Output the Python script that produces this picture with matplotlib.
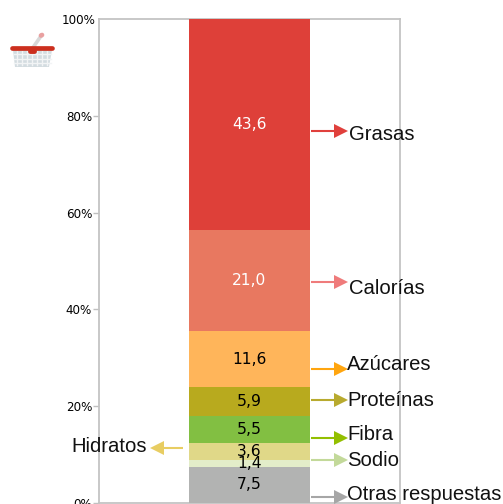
#!/usr/bin/python
# Stacked column: what shoppers look at on the food label
import numpy as np
import matplotlib
matplotlib.use('Agg')
import matplotlib.pyplot as plt
from matplotlib.patches import Polygon
from matplotlib.transforms import ScaledTranslation

# bottom to top
names  = ['Otras respuestas', 'Sodio', 'Hidratos', 'Fibra', 'Proteínas', 'Azúcares', 'Calorías', 'Grasas']
values = [7.5, 1.4, 3.6, 5.5, 5.9, 11.6, 21.0, 43.6]
labels = ['7,5', '1,4', '3,6', '5,5', '5,9', '11,6', '21,0', '43,6']
colors = ['#b2b3b2', '#e3edc9', '#e0d888', '#82bf42', '#b8aa1e', '#ffb55a', '#e87860', '#de4039']
text_colors = ['black'] * 6 + ['white'] * 2
arrow_colors = ['#a6a6a6', '#c3d99a', '#e8cd62', '#93bf00', '#b8aa2e', '#ffa50f', '#ef7b7b', '#e0403c']
tick_vals = [0, 20, 40, 60, 80, 100]

W, H = 503, 504
# plot frame, in pixels
left, right, top, bottom = 99, 400, 19, 503

fig = plt.figure(figsize=(W / 100, H / 100), dpi=100)
ax = fig.add_axes([left / W, 1 - bottom / H, (right - left) / W, (bottom - top) / H])

#================= Column ==================
bottoms = np.concatenate(([0], np.cumsum(values)[:-1]))
ax.bar(0, values, width=121, bottom=bottoms, color=colors, linewidth=0, zorder=3)
for b, v, s, c in zip(bottoms, values, labels, text_colors):
    ax.text(0, b + v / 2, s, color=c, ha='center', va='center', fontsize=11.2,
            family='DejaVu Sans', zorder=5)

ax.set_xlim(-150.5, 150.5)
ax.set_ylim(0, 100)
ax.set_xticks([])
ax.set_yticks(tick_vals)
ax.set_yticklabels(['%d%%' % t for t in tick_vals], fontsize=8.6, family='DejaVu Sans')
ax.tick_params(axis='y', length=4, width=1, color='#c0c0c0', pad=1)
# the top label sits closer to the frame and has no tick
top_label = ax.get_yticklabels()[-1]
top_label.set_transform(top_label.get_transform() + ScaledTranslation(0.03, 0, fig.dpi_scale_trans))
ax.yaxis.get_major_ticks()[-1].tick1line.set_visible(False)
for sp in ax.spines.values():
    sp.set_color('#c4c4c4')
    sp.set_linewidth(1.3)

#================= Callouts and basket, in pixels ==================
ov = fig.add_axes([0, 0, 1, 1])
ov.set_xlim(0, W)
ov.set_ylim(H, 0)
ov.axis('off')
ov.patch.set_alpha(0)

# x0, x1, arrow y, text x, text y
callouts = {
    'Grasas':           (311, 348, 131, 349, 134),
    'Calorías':         (311, 348, 282, 349, 288),
    'Azúcares':         (311, 348, 369, 347, 364),
    'Proteínas':        (311, 348, 400, 347, 401),
    'Fibra':            (311, 348, 438, 347, 435),
    'Sodio':            (311, 348, 460, 347, 460),
    'Otras respuestas': (311, 348, 497, 347, 494),
    'Hidratos':         (183, 150, 448, 147, 447),
}
for name, col in zip(names, arrow_colors):
    x0, x1, y, tx, ty = callouts[name]
    d = 1 if x1 > x0 else -1
    ov.plot([x0, x1 - d * 14], [y, y], color=col, lw=1.5, solid_capstyle='butt')
    ov.add_patch(Polygon([(x1, y), (x1 - d * 14, y - 7), (x1 - d * 14, y + 7)], closed=True,
                         facecolor=col, edgecolor='none'))
    ov.text(tx, ty, name, fontsize=14.6, family='Liberation Sans', color='#111111',
            ha='left' if d > 0 else 'right', va='center')

# shopping basket
ov.add_patch(Polygon([(13, 50), (52, 50), (49, 67), (15, 67)], closed=True,
                     facecolor='#d3dce0', edgecolor='none'))
for gx in np.arange(17, 50, 5):
    ov.plot([gx, gx], [51, 65], color='#f2f4f5', lw=1.0)
for gy in (54, 59, 63):
    ov.plot([14, 51], [gy, gy], color='#f2f4f5', lw=1.0)
ov.plot([32, 41], [49, 36], color='#d8d8d8', lw=2.6, solid_capstyle='round')
ov.plot([41, 42], [35.5, 35], color='#e9a0a0', lw=3.4, solid_capstyle='round')
ov.plot([12, 52], [48, 48], color='#cc2f1e', lw=3.4, solid_capstyle='round')
ov.plot([30, 34], [51, 51], color='#cc2f1e', lw=3.5, solid_capstyle='round')

fig.savefig('out.png', dpi=100)
